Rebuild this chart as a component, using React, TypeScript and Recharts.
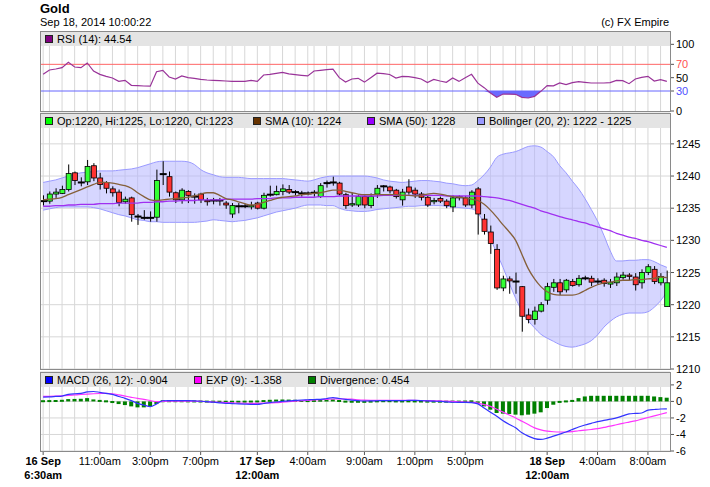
import {
  ComposedChart,
  Area,
  Bar,
  Line,
  XAxis,
  YAxis,
  CartesianGrid,
  ReferenceLine,
} from "recharts";

// 30-minute candles, 16 Sep 6:30am .. 18 Sep 9:30am
const opens = [
  1236.1, 1236.1, 1237.2, 1237.3, 1237.9, 1240.5, 1239.0, 1239.1, 1241.6, 1239.7,
  1239.0, 1238.0, 1237.5, 1236.0, 1236.6, 1233.7, 1233.5, 1233.5, 1233.6, 1240.3,
  1239.9, 1237.4, 1236.3, 1237.6, 1236.8, 1237.2, 1236.2, 1236.2, 1236.2, 1235.8,
  1234.1, 1235.3, 1235.3, 1235.2, 1235.8, 1235.0, 1237.1, 1237.1, 1237.6, 1237.9,
  1237.5, 1237.3, 1237.3, 1237.4, 1236.8, 1238.9, 1239.0, 1238.9, 1237.1, 1235.5,
  1235.5, 1236.8, 1235.4, 1237.2, 1238.4, 1238.3, 1237.8, 1236.3, 1238.3, 1237.8,
  1237.2, 1236.7, 1236.0, 1236.5, 1236.1, 1235.2, 1236.7, 1236.6, 1235.5, 1238.0,
  1233.3, 1231.3, 1228.6, 1222.6, 1224.0, 1223.6, 1222.8, 1218.4, 1217.7, 1219.0,
  1220.7, 1222.7, 1223.4, 1222.3, 1223.6, 1223.1, 1224.1, 1224.1, 1223.6, 1223.8,
  1223.2, 1223.4, 1224.2, 1224.6, 1224.3, 1223.4, 1225.0, 1225.5, 1223.4, 1219.7,
];
const highs = [
  1237.0, 1237.6, 1238.1, 1238.5, 1241.8, 1240.7, 1239.8, 1242.5, 1242.0, 1240.5,
  1239.2, 1238.4, 1237.9, 1236.8, 1236.8, 1234.1, 1234.7, 1234.5, 1241.0, 1242.3,
  1240.7, 1237.6, 1238.1, 1237.8, 1237.3, 1237.4, 1236.6, 1236.6, 1236.6, 1236.1,
  1235.8, 1235.8, 1235.7, 1236.0, 1236.0, 1237.4, 1238.5, 1238.5, 1238.7, 1238.6,
  1237.8, 1237.7, 1237.6, 1237.8, 1238.9, 1239.3, 1239.9, 1239.1, 1237.4, 1237.4,
  1237.1, 1237.0, 1237.3, 1238.6, 1238.6, 1238.5, 1238.0, 1238.0, 1239.5, 1238.2,
  1237.5, 1237.0, 1236.6, 1236.8, 1236.4, 1237.0, 1237.0, 1236.9, 1237.8, 1238.3,
  1234.1, 1232.3, 1229.4, 1224.5, 1224.4, 1225.0, 1222.9, 1219.4, 1219.7, 1220.4,
  1223.4, 1224.0, 1224.0, 1224.0, 1224.0, 1224.6, 1224.5, 1224.5, 1224.1, 1224.1,
  1224.0, 1225.0, 1225.1, 1224.9, 1224.9, 1225.5, 1226.3, 1226.0, 1224.9, 1225.3,
];
const lows = [
  1235.4, 1235.7, 1236.6, 1237.2, 1237.6, 1238.6, 1238.4, 1238.6, 1239.2, 1237.9,
  1237.3, 1236.8, 1235.3, 1235.7, 1232.9, 1232.4, 1233.2, 1232.9, 1232.9, 1238.6,
  1236.8, 1235.8, 1235.7, 1235.8, 1235.7, 1235.8, 1235.4, 1235.6, 1235.4, 1234.9,
  1233.5, 1234.2, 1235.0, 1234.8, 1234.8, 1234.8, 1236.8, 1237.0, 1237.0, 1237.2,
  1237.0, 1236.8, 1237.0, 1236.8, 1236.6, 1238.2, 1238.5, 1237.0, 1234.9, 1235.2,
  1235.2, 1235.0, 1235.0, 1236.6, 1237.6, 1237.3, 1236.5, 1235.4, 1237.1, 1236.6,
  1236.2, 1235.2, 1235.6, 1235.8, 1235.0, 1234.4, 1236.2, 1235.2, 1235.0, 1230.9,
  1230.9, 1227.9, 1222.3, 1222.1, 1221.7, 1221.7, 1215.8, 1217.1, 1216.9, 1218.8,
  1220.0, 1222.0, 1221.5, 1221.9, 1222.8, 1222.8, 1223.8, 1222.9, 1223.1, 1222.8,
  1222.6, 1222.9, 1223.9, 1223.8, 1222.2, 1222.5, 1224.6, 1223.2, 1223.0, 1219.7,
];
const closes = [
  1236.1, 1237.2, 1237.5, 1237.9, 1240.4, 1239.3, 1239.0, 1241.5, 1239.7, 1238.7,
  1238.1, 1237.4, 1235.9, 1236.4, 1234.0, 1233.7, 1233.5, 1233.5, 1239.3, 1240.3,
  1237.5, 1236.3, 1237.8, 1237.0, 1236.8, 1236.3, 1236.0, 1236.2, 1236.2, 1235.5,
  1235.4, 1235.3, 1235.3, 1235.4, 1235.0, 1237.0, 1237.1, 1237.6, 1238.0, 1237.5,
  1237.5, 1237.3, 1237.3, 1237.4, 1238.5, 1238.9, 1239.0, 1237.2, 1235.4, 1235.7,
  1236.8, 1235.5, 1236.8, 1238.1, 1238.4, 1237.7, 1236.8, 1237.5, 1237.5, 1237.2,
  1236.7, 1235.5, 1236.2, 1236.1, 1235.4, 1236.6, 1236.7, 1235.5, 1237.5, 1234.1,
  1231.4, 1229.5, 1222.6, 1224.0, 1223.7, 1223.6, 1218.2, 1217.7, 1219.0, 1220.0,
  1222.8, 1223.4, 1222.0, 1223.8, 1223.0, 1224.1, 1224.1, 1223.5, 1223.6, 1223.3,
  1223.5, 1224.3, 1224.6, 1224.4, 1223.1, 1225.0, 1225.9, 1223.6, 1224.4, 1223.4,
];

const sma10 = [
  1236.3, 1236.4, 1236.5, 1236.7, 1237.1, 1237.5, 1237.9, 1238.3, 1238.7, 1239.0,
  1239.0, 1238.9, 1238.7, 1238.5, 1238.1, 1237.4, 1236.8, 1236.3, 1236.2, 1236.3,
  1236.4, 1236.5, 1236.6, 1236.7, 1236.9, 1237.2, 1237.4, 1237.4, 1237.0, 1236.5,
  1236.3, 1236.0, 1235.7, 1235.5, 1235.6, 1235.9, 1236.2, 1236.5, 1236.7, 1236.8,
  1236.9, 1237.1, 1237.2, 1237.3, 1237.4, 1237.6, 1237.8, 1237.8, 1237.6, 1237.4,
  1237.2, 1237.1, 1237.1, 1237.1, 1237.1, 1237.1, 1237.1, 1237.0, 1237.0, 1236.9,
  1237.0, 1237.2, 1237.3, 1237.2, 1237.0, 1236.8, 1236.7, 1236.6, 1236.4, 1236.2,
  1235.6, 1234.7, 1233.6, 1232.4, 1231.3, 1230.0, 1227.8, 1225.6, 1224.0, 1222.8,
  1222.0, 1221.6, 1221.5, 1221.5, 1221.5, 1221.7, 1222.2, 1222.7, 1223.1, 1223.4,
  1223.5, 1223.7, 1223.8, 1223.8, 1223.9, 1223.9, 1224.0, 1224.1, 1224.3, 1224.2,
];
const sma50 = [
  1235.3, 1235.3, 1235.4, 1235.4, 1235.5, 1235.5, 1235.6, 1235.6, 1235.6, 1235.7,
  1235.7, 1235.7, 1235.8, 1235.8, 1235.8, 1235.8, 1235.9, 1235.9, 1236.0, 1236.0,
  1236.1, 1236.1, 1236.2, 1236.2, 1236.2, 1236.3, 1236.3, 1236.3, 1236.3, 1236.4,
  1236.4, 1236.4, 1236.4, 1236.4, 1236.5, 1236.5, 1236.5, 1236.6, 1236.6, 1236.6,
  1236.7, 1236.7, 1236.7, 1236.7, 1236.8, 1236.8, 1236.8, 1236.9, 1236.9, 1236.9,
  1236.9, 1236.9, 1236.9, 1236.9, 1237.0, 1237.0, 1237.0, 1237.0, 1237.0, 1237.0,
  1237.0, 1237.0, 1237.0, 1237.0, 1236.9, 1236.9, 1236.9, 1236.9, 1236.9, 1236.9,
  1236.8, 1236.7, 1236.6, 1236.4, 1236.2, 1235.9, 1235.6, 1235.3, 1235.0, 1234.6,
  1234.3, 1234.0, 1233.7, 1233.4, 1233.2, 1232.9, 1232.7, 1232.4, 1232.1, 1231.8,
  1231.5, 1231.1, 1230.8, 1230.5, 1230.3, 1230.0, 1229.8, 1229.5, 1229.2, 1228.9,
];
const bollUpper = [
  1239.0, 1239.2, 1239.4, 1239.7, 1240.0, 1240.3, 1240.5, 1240.6, 1240.7, 1240.8,
  1240.8, 1240.8, 1240.9, 1241.0, 1241.1, 1241.3, 1241.6, 1241.9, 1242.2, 1242.3,
  1242.3, 1242.3, 1242.3, 1242.2, 1241.8, 1241.0, 1240.5, 1240.2, 1239.9, 1239.8,
  1239.8, 1239.8, 1239.7, 1239.6, 1239.6, 1239.6, 1239.6, 1239.6, 1239.6, 1239.5,
  1239.4, 1239.3, 1239.2, 1239.4, 1239.7, 1239.9, 1240.0, 1240.0, 1240.0, 1240.0,
  1240.0, 1240.0, 1239.9, 1239.7, 1239.4, 1239.2, 1239.1, 1239.0, 1239.1, 1239.2,
  1239.3, 1239.3, 1239.2, 1239.1, 1238.9, 1238.8, 1238.6, 1238.5, 1238.6, 1239.3,
  1240.2, 1241.4, 1242.9, 1243.4, 1243.6, 1243.8, 1244.2, 1244.6, 1244.7, 1244.5,
  1243.8, 1243.0, 1241.6, 1240.5, 1239.2, 1238.0, 1236.5, 1234.8, 1233.0, 1230.8,
  1228.4, 1226.8, 1226.8, 1226.9, 1226.9, 1227.0, 1227.0, 1226.7, 1226.2, 1225.8,
];
const bollLower = [
  1234.7, 1234.9, 1235.1, 1235.2, 1235.2, 1235.2, 1235.2, 1235.2, 1235.1, 1234.9,
  1234.6, 1234.3, 1234.0, 1233.8, 1233.5, 1233.2, 1233.1, 1232.9, 1232.9, 1232.8,
  1232.8, 1232.8, 1232.8, 1232.8, 1232.8, 1232.9, 1233.0, 1233.2, 1233.1, 1233.0,
  1232.9, 1233.0, 1233.1, 1233.3, 1233.5, 1233.8, 1234.1, 1234.4, 1234.6, 1234.8,
  1235.0, 1235.3, 1235.5, 1235.5, 1235.5, 1235.4, 1235.4, 1235.0, 1234.7, 1234.6,
  1234.5, 1234.5, 1234.6, 1234.8, 1234.9, 1235.0, 1235.1, 1235.2, 1235.3, 1235.3,
  1235.4, 1235.4, 1235.4, 1235.4, 1235.3, 1235.2, 1235.1, 1235.0, 1234.9, 1234.3,
  1232.5, 1230.3, 1228.0, 1225.8, 1223.3, 1221.0, 1219.0, 1217.5, 1216.4, 1215.4,
  1214.8, 1214.3, 1213.8, 1213.5, 1213.4, 1213.6, 1213.9, 1214.4, 1215.3, 1216.5,
  1217.4, 1218.1, 1218.5, 1218.7, 1218.7, 1218.7, 1218.9, 1219.6, 1220.6, 1222.0,
];

const rsi = [
  55, 61.5, 63, 65, 73, 66, 65, 72, 60, 55,
  52, 49.5, 44.5, 46, 38.5, 38.2, 37.5, 37.2, 59, 61,
  51, 48, 52.5, 50, 49, 47.5, 46.5, 46, 45.5, 45,
  44.5, 44.5, 44.4, 46, 44.4, 54, 55, 56.5, 58, 55.6,
  54.5, 53.5, 52.6, 60, 61, 62, 62.8, 50, 43.5, 48,
  49, 43.3, 50, 56.7, 56, 54.8, 49.5, 52, 51.5, 50,
  48, 42.8, 47.4, 45, 43, 49.5, 44.4, 50, 55, 41.8,
  35, 27, 20.5, 25.4, 25.2, 25, 20.5, 19.5, 22, 29.5,
  38.2, 37.7, 42, 39.7, 42.5, 44, 43, 42, 42, 42,
  42.5, 46, 45.5, 41, 48, 50.5, 52, 45, 47, 44.5,
];

const macd = [
  0.53, 0.55, 0.6, 0.65, 0.85, 0.93, 0.97, 1.15, 1.2, 1.1,
  0.98, 0.85, 0.6, 0.37, 0.1, -0.23, -0.45, -0.63, -0.3, 0.08,
  0.1, 0.1, 0.1, 0.09, 0.06, 0.02, -0.03, -0.1, -0.17, -0.23,
  -0.26, -0.3, -0.33, -0.35, -0.35, -0.25, -0.15, -0.07, 0.0, 0.07,
  0.12, 0.17, 0.2, 0.23, 0.25, 0.35, 0.45, 0.35, 0.25, 0.15,
  0.09, 0.05, 0.06, 0.08, 0.1, 0.1, 0.1, 0.1, 0.12, 0.12,
  0.1, 0.06, 0.03, 0.0, -0.06, -0.1, -0.12, -0.12, -0.15, -0.3,
  -0.8, -1.3, -1.8, -2.35, -2.8, -3.2, -3.8, -4.2, -4.5, -4.6,
  -4.45, -4.2, -3.95, -3.7, -3.4, -3.1, -2.85, -2.65, -2.45, -2.3,
  -2.15, -2.0, -1.75, -1.5, -1.45, -1.4, -1.05, -0.98, -0.92, -0.9,
];
const signal = [
  0.61, 0.62, 0.64, 0.67, 0.72, 0.78, 0.84, 0.89, 0.93, 0.96,
  0.97, 0.93, 0.8, 0.65, 0.5, 0.36, 0.25, 0.1, -0.03, 0.0,
  0.02, 0.03, 0.03, 0.03, 0.02, 0.0, -0.03, -0.07, -0.11, -0.15,
  -0.18, -0.2, -0.22, -0.23, -0.23, -0.21, -0.18, -0.15, -0.09, -0.03,
  0.03, 0.09, 0.13, 0.17, 0.21, 0.25, 0.29, 0.3, 0.29, 0.27,
  0.2, 0.16, 0.14, 0.13, 0.12, 0.12, 0.12, 0.12, 0.12, 0.12,
  0.11, 0.1, 0.08, 0.06, 0.04, 0.01, -0.04, -0.08, -0.12, -0.2,
  -0.38, -0.6, -0.95, -1.3, -1.65, -2.0, -2.4, -2.8, -3.2, -3.45,
  -3.6, -3.67, -3.7, -3.7, -3.65, -3.55, -3.48, -3.4, -3.3, -3.15,
  -3.0, -2.82, -2.65, -2.5, -2.35, -2.15, -1.95, -1.75, -1.55, -1.36,
];
const divergence = [
  0.05, 0.08, 0.1, 0.15, 0.28, 0.3, 0.32, 0.4, 0.24, 0.12,
  0.02, -0.15, -0.32, -0.44, -0.6, -0.72, -0.72, -0.6, -0.32, 0.05,
  0.05, 0.05, 0.04, 0.02, 0.0, -0.02, -0.05, -0.06, -0.07, -0.08,
  -0.08, -0.08, -0.06, -0.04, -0.02, 0.08, 0.15, 0.2, 0.22, 0.2,
  0.15, 0.1, 0.08, 0.12, 0.18, 0.22, 0.25, 0.1, -0.05, -0.08,
  -0.08, -0.1, -0.05, 0.02, 0.05, 0.05, 0.0, 0.0, 0.02, 0.0,
  -0.02, -0.05, -0.05, -0.06, -0.06, -0.04, -0.05, -0.03, 0.02, -0.3,
  -0.6, -1.0, -1.4, -1.48, -1.52, -1.6, -1.68, -1.6, -1.48, -1.32,
  -0.8, -0.4, -0.12, 0.0, 0.12, 0.4, 0.6, 0.68, 0.68, 0.68,
  0.68, 0.68, 0.68, 0.68, 0.68, 0.68, 0.68, 0.6, 0.52, 0.45,
];

// hourly vertical grid lines (candle index)
const gridIdx = [
  0, 1, 3, 5, 7, 9, 11, 13, 15, 17, 19, 21, 23, 25, 27, 29,
  30, 32, 34, 36, 38, 40, 42,
  43, 45, 47, 49, 51, 53, 55, 57, 59, 61, 63, 65, 67, 69, 71, 73, 75,
  76, 78, 80, 82, 84, 86, 88, 90, 92, 94, 96, 98,
];
const xTicks = [0, 9, 17, 25, 34, 42, 51, 59, 67, 80, 88, 96];
const xLabelTop = ["16 Sep", "11:00am", "3:00pm", "7:00pm", "17 Sep", "4:00am", "9:00am", "1:00pm", "5:00pm", "18 Sep", "4:00am", "8:00am"];
const xLabelBottom = ["6:30am", "", "", "", "12:00am", "", "", "", "", "12:00am", "", ""];

const rsiTicks = [0, 30, 50, 70, 100];
const priceTicks = [1210, 1215, 1220, 1225, 1230, 1235, 1240, 1245];
const macdTicks = [-6, -4, -2, 0, 2];

const data = opens.map((o, i) => ({
  i,
  open: o,
  high: highs[i],
  low: lows[i],
  close: closes[i],
  range: [lows[i], highs[i]],
  sma10: sma10[i],
  sma50: sma50[i],
  boll: [bollLower[i], bollUpper[i]],
  rsi: rsi[i],
  rsiLow: [Math.min(rsi[i], 30), 30],
  macd: macd[i],
  signal: signal[i],
  div: divergence[i],
}));

const FONT = "Arial, 'Liberation Sans', sans-serif";
const W = 710;
const PLOT_L = 40;
const PLOT_W = 630;

const gridGen = ({ xAxis, offset }: any) =>
  gridIdx.map((g) =>
    xAxis && typeof xAxis.scale === "function"
      ? xAxis.scale(g)
      : offset.left + ((g + 0.5) / 100) * offset.width
  );

function Candle(props: any) {
  const { x, y, width, height, payload } = props;
  if (x == null || !payload) return null;
  const { open, close, high, low } = payload;
  const top0 = height < 0 ? y + height : y;
  const h = Math.abs(height);
  const span = high - low || 1;
  const toY = (v: number) => top0 + ((high - v) / span) * h;
  const cx = x + width / 2;
  const bodyTop = toY(Math.max(open, close));
  const bodyBot = toY(Math.min(open, close));
  const doji = Math.abs(close - open) < 0.05;
  return (
    <g>
      <line x1={cx} x2={cx} y1={top0} y2={top0 + h} stroke="#000" strokeWidth={1} />
      {doji ? (
        <line x1={x - 1} x2={x + width + 1} y1={bodyTop} y2={bodyTop} stroke="#000" strokeWidth={2} />
      ) : (
        <rect
          x={x}
          y={bodyTop}
          width={width}
          height={Math.max(bodyBot - bodyTop, 1)}
          fill={close > open ? "#33ff33" : "#ff3333"}
          stroke="#000"
          strokeWidth={0.8}
        />
      )}
    </g>
  );
}

function DivBar(props: any) {
  const { x, y, width, height } = props;
  if (x == null) return null;
  let top = height < 0 ? y + height : y;
  let h = Math.abs(height);
  if (h < 2) {
    top = top + h / 2 - 1;
    h = 2;
  }
  return <rect x={x} y={top} width={width} height={h} fill="#008000" />;
}

function yTick(colors: Record<number, string> = {}) {
  return (p: any) => (
    <text
      x={p.x}
      y={p.y}
      dy={4}
      textAnchor="start"
      fontSize={11}
      fontFamily={FONT}
      fill={colors[p.payload.value] ?? "#000"}
    >
      {p.payload.value}
    </text>
  );
}

function XTick(p: any) {
  const k = xTicks.indexOf(p.payload.value);
  if (k < 0) return null;
  const bold = xLabelBottom[k] !== "";
  return (
    <text
      x={p.x}
      y={p.y + 8}
      textAnchor="middle"
      fontSize={11}
      fontFamily={FONT}
      fontWeight={bold ? "bold" : "normal"}
      fill="#000"
    >
      <tspan x={p.x}>{xLabelTop[k]}</tspan>
      {bold && (
        <tspan x={p.x} dy={14}>
          {xLabelBottom[k]}
        </tspan>
      )}
    </text>
  );
}

type LegendItem = { color: string; label: string; x: number };

function Panel({
  top,
  height,
  items,
}: {
  top: number;
  height: number;
  items: LegendItem[];
}) {
  return (
    <div
      style={{
        position: "absolute",
        left: PLOT_L,
        top,
        width: PLOT_W + 1,
        height: height + 1,
        boxSizing: "border-box",
        border: "1px solid #8a8a8a",
        pointerEvents: "none",
      }}
    >
      <div
        style={{
          position: "absolute",
          left: 0,
          top: 0,
          right: 0,
          height: 14,
          background: "#e4e4e4",
        }}
      >
        {items.map((it) => (
          <div key={it.label} style={{ position: "absolute", left: it.x - PLOT_L - 1, top: 0, height: 14, display: "flex", alignItems: "center" }}>
            <span
              style={{
                display: "inline-block",
                width: 6,
                height: 6,
                background: it.color,
                border: "1px solid #222",
                marginRight: 4,
              }}
            />
            <span style={{ fontSize: 11, fontFamily: FONT, color: "#000", whiteSpace: "nowrap" }}>{it.label}</span>
          </div>
        ))}
      </div>
    </div>
  );
}

const RSI_TOP = 31;
const RSI_H = 80;
const MAIN_TOP = 113;
const MAIN_H = 256;
const MACD_TOP = 372;
const MACD_H = 79;

export default function App() {
  return (
    <div style={{ position: "absolute", left: 0, top: 0, width: W, height: 487, background: "#fff", fontFamily: FONT }}>
      <style>{".recharts-surface{overflow:visible}"}</style>
      <div style={{ position: "absolute", left: 40, top: 1, fontSize: 13, fontWeight: "bold", lineHeight: "15px" }}>Gold</div>
      <div style={{ position: "absolute", left: 40, top: 16, fontSize: 11, lineHeight: "13px" }}>Sep 18, 2014 10:00:22</div>
      <div style={{ position: "absolute", left: 0, width: 669, top: 16, fontSize: 11, lineHeight: "13px", textAlign: "right" }}>(c) FX Empire</div>

      {/* RSI */}
      <div style={{ position: "absolute", left: 0, top: RSI_TOP }}>
        <ComposedChart width={W} height={RSI_H} data={data} margin={{ top: 0, right: 0, bottom: 0, left: PLOT_L }}>
          <CartesianGrid horizontal={false} stroke="#d7d7d7" verticalCoordinatesGenerator={gridGen} />
          <XAxis dataKey="i" type="number" domain={[-0.5, 99.5]} hide allowDataOverflow />
          <YAxis
            orientation="right"
            width={40}
            domain={[0, 120]}
            ticks={rsiTicks}
            interval={0}
            axisLine={false}
            tickSize={4}
            tickMargin={2}
            tickLine={{ stroke: "#555" }}
            tick={yTick({ 70: "#ff5050", 30: "#5050ff" })}
            allowDataOverflow
          />
          <ReferenceLine y={70} stroke="#ff6666" />
          <ReferenceLine y={30} stroke="#6666ff" />
          <Area dataKey="rsiLow" type="linear" stroke="none" fill="#6a6aff" fillOpacity={1} isAnimationActive={false} />
          <Line dataKey="rsi" type="linear" stroke="#993399" strokeWidth={1.2} dot={false} isAnimationActive={false} />
        </ComposedChart>
      </div>

      {/* Price */}
      <div style={{ position: "absolute", left: 0, top: MAIN_TOP }}>
        <ComposedChart width={W} height={MAIN_H} data={data} margin={{ top: 0, right: 0, bottom: 0, left: PLOT_L }}>
          <CartesianGrid stroke="#d7d7d7" verticalCoordinatesGenerator={gridGen} />
          <XAxis dataKey="i" type="number" domain={[-0.5, 99.5]} hide allowDataOverflow />
          <YAxis
            orientation="right"
            width={40}
            domain={[1210, 1249.8]}
            ticks={priceTicks}
            interval={0}
            axisLine={false}
            tickSize={4}
            tickMargin={2}
            tickLine={{ stroke: "#555" }}
            tick={yTick()}
            allowDataOverflow
          />
          <Area dataKey="boll" type="monotone" stroke="#9a9aff" strokeWidth={1} fill="#b4b4ff" fillOpacity={0.55} isAnimationActive={false} />
          <Bar dataKey="range" barSize={5} shape={<Candle />} isAnimationActive={false} />
          <Line dataKey="sma50" type="monotone" stroke="#a030f0" strokeWidth={1.3} dot={false} isAnimationActive={false} />
          <Line dataKey="sma10" type="monotone" stroke="#85603a" strokeWidth={1.3} dot={false} isAnimationActive={false} />
        </ComposedChart>
      </div>

      {/* MACD */}
      <div style={{ position: "absolute", left: 0, top: MACD_TOP }}>
        <ComposedChart width={W} height={MACD_H + 36} data={data} margin={{ top: 0, right: 0, bottom: 0, left: PLOT_L }}>
          <CartesianGrid stroke="#d7d7d7" verticalCoordinatesGenerator={gridGen} />
          <XAxis
            dataKey="i"
            type="number"
            domain={[-0.5, 99.5]}
            ticks={xTicks}
            interval={0}
            height={36}
            axisLine={false}
            tickSize={4}
            tickMargin={2}
            tickLine={{ stroke: "#555" }}
            tick={<XTick />}
            allowDataOverflow
          />
          <YAxis
            orientation="right"
            width={40}
            domain={[-6, 3.56]}
            ticks={macdTicks}
            interval={0}
            axisLine={false}
            tickSize={4}
            tickMargin={2}
            tickLine={{ stroke: "#555" }}
            tick={yTick()}
            allowDataOverflow
          />
          <Bar dataKey="div" barSize={4} shape={<DivBar />} isAnimationActive={false} />
          <Line dataKey="signal" type="monotone" stroke="#ff33ff" strokeWidth={1.2} dot={false} isAnimationActive={false} />
          <Line dataKey="macd" type="monotone" stroke="#3333ff" strokeWidth={1.2} dot={false} isAnimationActive={false} />
        </ComposedChart>
      </div>

      <Panel top={RSI_TOP} height={RSI_H} items={[{ color: "#800080", label: "RSI (14): 44.54", x: 45 }]} />
      <Panel
        top={MAIN_TOP}
        height={MAIN_H}
        items={[
          { color: "#00ff00", label: "Op:1220, Hi:1225, Lo:1220, Cl:1223", x: 45 },
          { color: "#663300", label: "SMA (10): 1224", x: 253 },
          { color: "#9900ff", label: "SMA (50): 1228", x: 367 },
          { color: "#9999ff", label: "Bollinger (20, 2): 1222 - 1225", x: 477 },
        ]}
      />
      <Panel
        top={MACD_TOP}
        height={MACD_H}
        items={[
          { color: "#0000ff", label: "MACD (26, 12): -0.904", x: 45 },
          { color: "#ff00ff", label: "EXP (9): -1.358", x: 194 },
          { color: "#008000", label: "Divergence: 0.454", x: 308 },
        ]}
      />
    </div>
  );
}
